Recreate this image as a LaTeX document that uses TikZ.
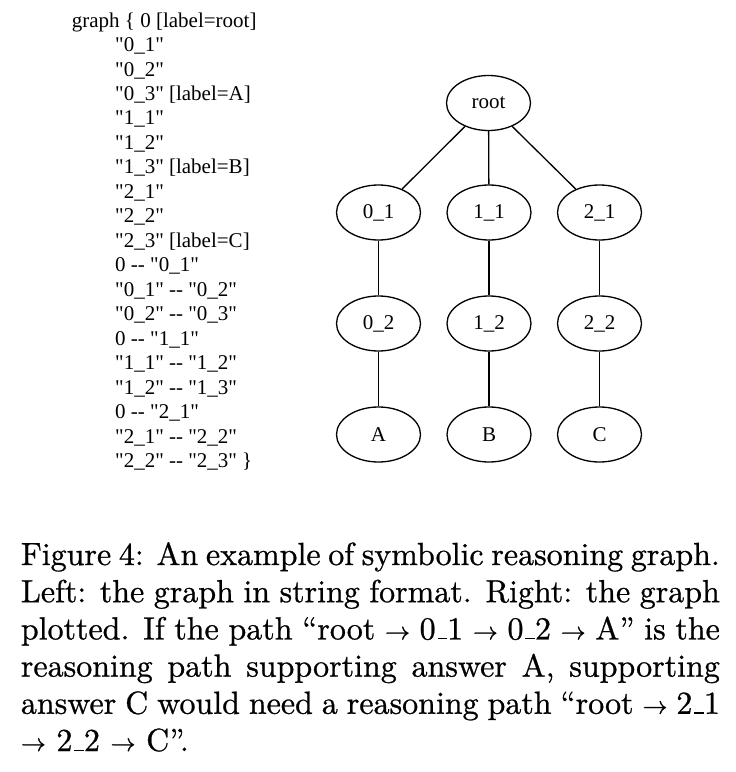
\documentclass[tikz,border=0pt]{standalone}
\usepackage{fontspec}
\usetikzlibrary{shapes.geometric}
\newfontfamily\timesfont{Liberation Serif}[Ligatures=TeXOff]
\newfontfamily\capfont{lmroman10-regular}[Extension=.otf]
\newcommand\usc{\leavevmode\kern.06em\vbox{\hrule width .3em height .045em}}
\newcommand\heavyon{\special{pdf:literal direct 2 Tr 0.25 w}}
\newcommand\heavyoff{\special{pdf:literal direct 0 Tr}}
\tikzset{
  codeline/.style={anchor=base west, inner sep=0pt, font=\timesfont\fontsize{21}{24}\selectfont},
  gnode/.style={ellipse, draw, line width=1.3pt, minimum width=84pt, minimum height=55pt, inner sep=0pt, font=\timesfont\fontsize{21}{24}\selectfont},
  gedge/.style={line width=1.3pt},
  capline/.style={anchor=base west, inner sep=0pt, font=\capfont\fontsize{32}{38}\selectfont}
}
\begin{document}
\begin{tikzpicture}[x=1pt, y=-1pt]
\path[use as bounding box] (0,0) rectangle (736,772);
% code text
\node[codeline] (c0) at (71.7,27) {graph \{ 0 [label=root]};
\node[codeline] (c1) at (115,51.5) {"0\_1"};
\node[codeline] (c2) at (115,76) {"0\_2"};
\node[codeline] (c3) at (115,100.4) {"0\_3" [label=A]};
\node[codeline] (c4) at (115,124.9) {"1\_1"};
\node[codeline] (c5) at (115,149.4) {"1\_2"};
\node[codeline] (c6) at (115,173.8) {"1\_3" [label=B]};
\node[codeline] (c7) at (115,198.3) {"2\_1"};
\node[codeline] (c8) at (115,222.8) {"2\_2"};
\node[codeline] (c9) at (115,247.2) {"2\_3" [label=C]};
\node[codeline] (c10) at (115,271.7) {0 -- "0\_1"};
\node[codeline] (c11) at (115,296.2) {"0\_1" -- "0\_2"};
\node[codeline] (c12) at (115,320.6) {"0\_2" -- "0\_3"};
\node[codeline] (c13) at (115,345.1) {0 -- "1\_1"};
\node[codeline] (c14) at (115,369.6) {"1\_1" -- "1\_2"};
\node[codeline] (c15) at (115,394) {"1\_2" -- "1\_3"};
\node[codeline] (c16) at (115,418.5) {0 -- "2\_1"};
\node[codeline] (c17) at (115,443) {"2\_1" -- "2\_2"};
\node[codeline] (c18) at (115,467.4) {"2\_2" -- "2\_3" \}};
% graph
\node[gnode] (root) at (488.5,103) {root};
\node[gnode] (n01) at (378.5,212.5) {0\_1};
\node[gnode] (n11) at (489,212.5) {1\_1};
\node[gnode] (n21) at (599.5,212.5) {2\_1};
\node[gnode] (n02) at (378.5,323.5) {0\_2};
\node[gnode] (n12) at (489,323.5) {1\_2};
\node[gnode] (n22) at (599.5,323.5) {2\_2};
\node[gnode] (n03) at (378.5,434.5) {A};
\node[gnode] (n13) at (489,434.5) {B};
\node[gnode] (n23) at (599.5,434.5) {C};
\draw[gedge] (root) -- (n01);
\draw[gedge] (root) -- (n11);
\draw[gedge] (root) -- (n21);
\draw[gedge] (n01) -- (n02);
\draw[gedge] (n02) -- (n03);
\draw[gedge] (n11) -- (n12);
\draw[gedge] (n12) -- (n13);
\draw[gedge] (n21) -- (n22);
\draw[gedge] (n22) -- (n23);
% caption
\node[capline] (l1) at (20.7,565) {\heavyon\makebox[699pt][s]{Figure 4: An example of symbolic reasoning graph.}\heavyoff};
\node[capline] (l2) at (20.7,602.2) {\heavyon\makebox[699pt][s]{Left: the graph in string format. Right: the graph}\heavyoff};
\node[capline] (l3) at (20.7,639.4) {\heavyon\makebox[699pt][s]{plotted. If the path “root $\rightarrow$ 0\usc 1 $\rightarrow$ 0\usc 2 $\rightarrow$ A” is the}\heavyoff};
\node[capline] (l4) at (20.7,676.6) {\heavyon\makebox[699pt][s]{reasoning path supporting answer A, supporting}\heavyoff};
\node[capline] (l5) at (20.7,713.8) {\heavyon\makebox[699pt][s]{answer C would need a reasoning path “root $\rightarrow$ 2\usc 1}\heavyoff};
\node[capline] (l6) at (20.7,751) {\heavyon$\rightarrow$ 2\usc 2 $\rightarrow$ C”.\heavyoff};
\end{tikzpicture}
\end{document}
